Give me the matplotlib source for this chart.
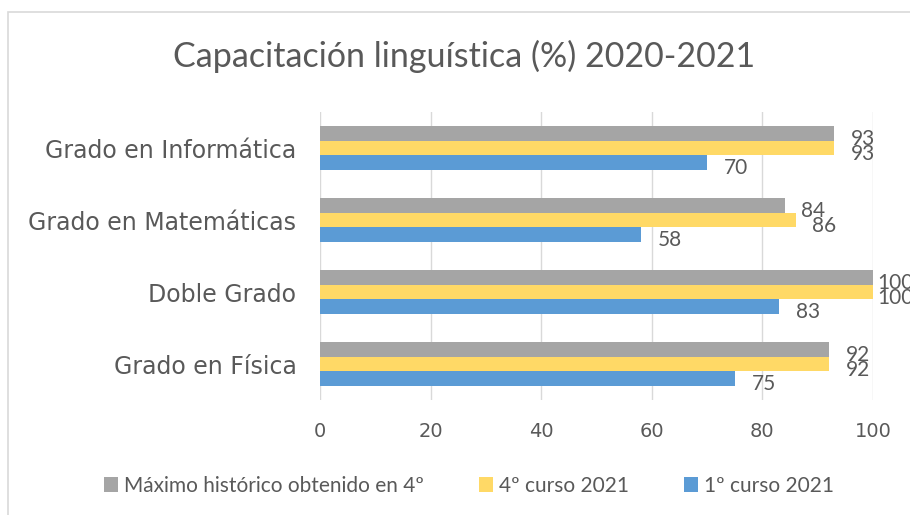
import matplotlib
matplotlib.use('Agg')
import matplotlib.pyplot as plt
from matplotlib.patches import Rectangle
import numpy as np

categories = ['Grado en Física', 'Doble Grado', 'Grado en Matemáticas', 'Grado en Informática']
primero = [75, 83, 58, 70]
cuarto = [92, 100, 86, 93]
maximo = [92, 100, 84, 93]
series_names = ['Máximo histórico obtenido en 4º', '4º curso 2021', '1º curso 2021']
ticks = [0, 20, 40, 60, 80, 100]

c_gray = '#A5A5A5'
c_yellow = '#FFD966'
c_blue = '#5B9BD5'
txt = '#595959'
narrow = ['Lato', 'DejaVu Sans']

fig = plt.figure(figsize=(9.1, 5.15), dpi=100)
fig.patches.append(Rectangle((8 / 910, -0.05), 1.0, (515 - 12) / 515 + 0.05,
                             transform=fig.transFigure, fill=False,
                             edgecolor='#D9D9D9', linewidth=1.2))
ax = fig.add_axes([320 / 910, 1 - 400 / 515, 553 / 910, 288 / 515])

y = np.arange(len(categories))
h = 0.2
b1 = ax.barh(y + h, maximo, height=h, color=c_gray, label=series_names[0], zorder=3)
b2 = ax.barh(y, cuarto, height=h, color=c_yellow, label=series_names[1], zorder=3)
b3 = ax.barh(y - h, primero, height=h, color=c_blue, label=series_names[2], zorder=3)

# labels at the bar ends (the ones at 100 sit closer, like in excel)
for bars, vals in [(b1, maximo), (b2, cuarto), (b3, primero)]:
    for bar, v in zip(bars, vals):
        dx = 3 if v >= 100 else 12
        ax.annotate(str(v), (v, bar.get_y() + bar.get_height() / 2),
                    xytext=(dx, -4), textcoords='offset points',
                    ha='left', va='center', fontsize=15, color=txt,
                    family=narrow, annotation_clip=False)

ax.set_xlim(0, 100)
ax.set_ylim(-0.5, 3.5)
ax.set_xticks(ticks)
ax.set_yticks(y)
ax.set_yticklabels(categories, fontsize=17, color=txt)
ax.tick_params(axis='x', labelsize=14, labelcolor=txt, length=0, pad=16)
ax.tick_params(axis='y', length=0, pad=17)
ax.grid(axis='x', color='#D9D9D9', linewidth=1, zorder=0)
for s in ax.spines.values():
    s.set_visible(False)

fig.text(464 / 910, 1 - 56 / 515, 'Capacitación linguística (%) 2020-2021',
         ha='center', va='center', fontsize=24.5, color=txt, family=narrow)

fig.legend(handles=[b1, b2, b3], labels=series_names, loc='center',
           bbox_to_anchor=(469 / 910, 1 - 486 / 515), ncol=3, frameon=False,
           prop={'family': narrow, 'size': 15}, labelcolor=txt,
           handlelength=0.7, handleheight=0.7, handletextpad=0.3, columnspacing=2.6)

fig.savefig('out.png', dpi=100)
